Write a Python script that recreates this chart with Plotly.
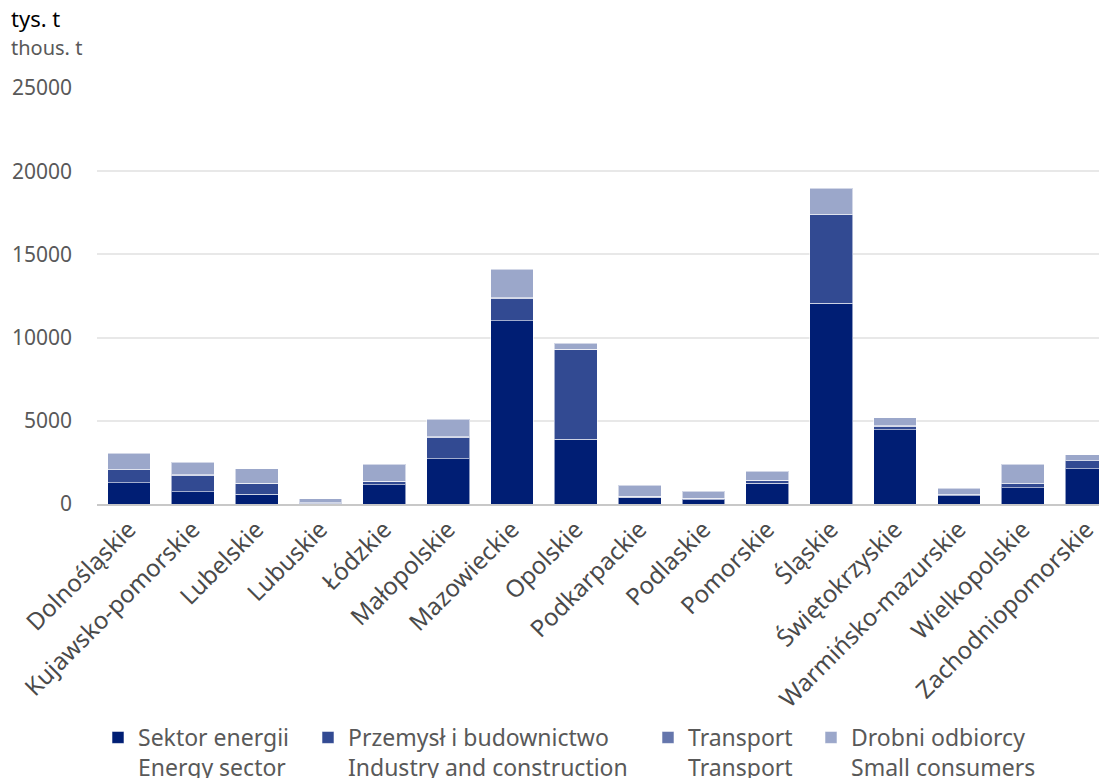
import plotly.graph_objects as go

regions = ["Dolnośląskie", "Kujawsko-pomorskie", "Lubelskie", "Lubuskie", "Łódzkie",
           "Małopolskie", "Mazowieckie", "Opolskie", "Podkarpackie", "Podlaskie",
           "Pomorskie", "Śląskie", "Świętokrzyskie", "Warmińsko-mazurskie",
           "Wielkopolskie", "Zachodniopomorskie"]

energy = [1280, 740, 600, 50, 1160, 2720, 11000, 3890, 400, 260, 1240, 12060, 4460, 500, 980, 2120]
industry = [780, 1000, 640, 30, 200, 1280, 1380, 5400, 70, 90, 180, 5330, 210, 70, 250, 470]
transport = [40, 30, 20, 10, 20, 30, 20, 10, 10, 10, 20, 20, 20, 10, 20, 20]
small = [950, 750, 860, 220, 1000, 1060, 1700, 360, 660, 420, 540, 1560, 480, 380, 1150, 340]

series_names = ["Sektor energii<br>Energy sector",
                "Przemysł i budownictwo<br>Industry and construction",
                "Transport<br>Transport",
                "Drobni odbiorcy<br>Small consumers"]
series_values = [energy, industry, transport, small]
series_colors = ["#001e74", "#324a92", "#6576ac", "#9ba7ca"]

FONT = "Noto Sans"
GRAY = "#595959"

W, H = 1107, 800
L, R, T = 89, 8, 80
PLOT_BOTTOM = 496
B = H - PLOT_BOTTOM
plot_w = W - L - R
plot_h = PLOT_BOTTOM - T

legend_ids = ["legend", "legend2", "legend3", "legend4"]
legend_text_px = [139, 349, 689, 852]

fig = go.Figure()
for name, vals, col, lid in zip(series_names, series_values, series_colors, legend_ids):
    fig.add_trace(go.Bar(
        x=regions, y=vals, name=name, legend=lid, showlegend=True,
        marker=dict(color=col, line=dict(color="rgba(255,255,255,0.55)", width=1)),
    ))

legend_layout = {}
for lid, tx in zip(legend_ids, legend_text_px):
    legend_layout[lid] = dict(
        orientation="h", x=max(0.0, (tx - 49 - L) / plot_w), xanchor="left",
        y=-(708 - PLOT_BOTTOM) / plot_h, yanchor="top",
        font=dict(size=23, color=GRAY, family=FONT),
        valign="top", itemwidth=30, bgcolor="rgba(0,0,0,0)",
    )

fig.update_layout(
    showlegend=True,
    barmode="stack",
    bargap=0.33,
    width=W, height=H,
    margin=dict(l=L, r=R, t=T, b=B),
    paper_bgcolor="white", plot_bgcolor="white",
    font=dict(family=FONT, color=GRAY, size=21),
    xaxis=dict(
        tickangle=-45, tickfont=dict(size=24, color="#4a4a4a"),
        showline=True, linecolor="#c8c8c8", linewidth=2,
        range=[-0.5, 15.32], ticks="", automargin=False,
    ),
    yaxis=dict(
        range=[0, 25000], dtick=5000, tickformat="d",
        showgrid=True, gridcolor="#e8e8e8", gridwidth=2,
        zeroline=False, ticks="", tickfont=dict(size=21, color=GRAY),
        ticklabelstandoff=24, automargin=False,
    ),
    annotations=[
        dict(text="tys. t", xref="paper", yref="paper", x=(1 - L) / plot_w, y=(PLOT_BOTTOM - 10) / plot_h,
             xanchor="left", yanchor="middle", showarrow=False,
             font=dict(size=22, color="#000000", family=FONT)),
        dict(text="thous. t", xref="paper", yref="paper", x=(1 - L) / plot_w, y=(PLOT_BOTTOM - 40) / plot_h,
             xanchor="left", yanchor="middle", showarrow=False,
             font=dict(size=20, color=GRAY, family=FONT)),
    ],
    **legend_layout,
)

fig.write_html("out.html")
